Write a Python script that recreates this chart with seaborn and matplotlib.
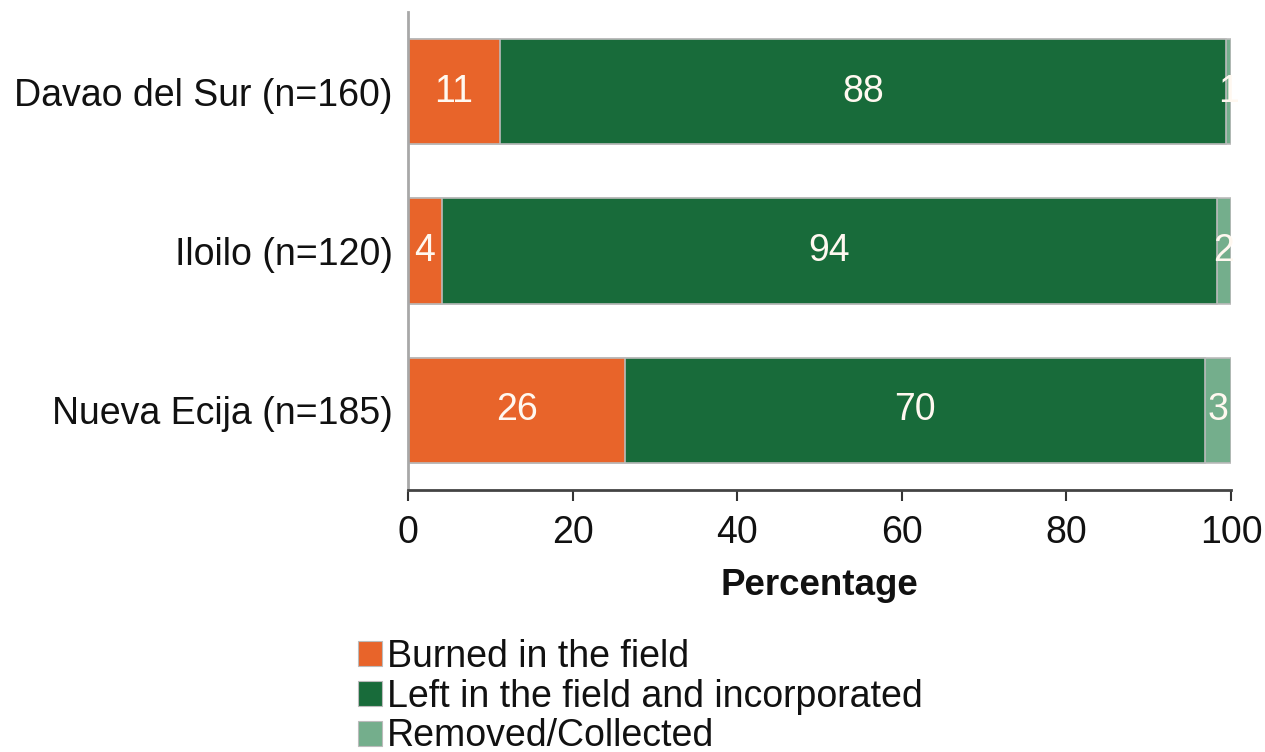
import numpy as np
import pandas as pd
import matplotlib
matplotlib.use("Agg")
import matplotlib.pyplot as plt
import seaborn as sns
from matplotlib.patches import Patch

# Fate of crop residue by province (percent of farmers)
provinces = ["Davao del Sur (n=160)", "Iloilo (n=120)", "Nueva Ecija (n=185)"]
burned = [11.2, 4.1, 26.4]
incorporated = [88.2, 94.2, 70.4]
removed = [0.6, 1.7, 3.2]

series_names = ["Burned in the field", "Left in the field and incorporated", "Removed/Collected"]
series_colors = ["#E8642A", "#186B3A", "#74AE8C"]

sns.set_theme(style="white")
plt.rcParams["font.family"] = ["Liberation Sans", "DejaVu Sans"]
plt.rcParams["text.color"] = "#111111"

df = pd.DataFrame({
    "province": provinces,
    "burned": burned,
    "incorporated": incorporated,
    "removed": removed,
})
df["c1"] = df["burned"]
df["c2"] = df["burned"] + df["incorporated"]
df["c3"] = df["c2"] + df["removed"]

fig = plt.figure(figsize=(12.65, 7.52), dpi=100)
ax = fig.add_axes([408 / 1265, 1 - 490 / 752, (1231 - 408) / 1265, (490 - 12) / 752])

# Stacked bars drawn as overlapping cumulative totals
for col, color in zip(["c3", "c2", "c1"], series_colors[::-1]):
    sns.barplot(data=df, x=col, y="province", orient="h", color=color,
                width=0.66, edgecolor="#BBBBBB", linewidth=1.2,
                saturation=1, ax=ax)

# Segment value labels
for i, row in df.iterrows():
    starts = [0, row["c1"], row["c2"]]
    vals = [row["burned"], row["incorporated"], row["removed"]]
    for s, v in zip(starts, vals):
        ax.text(s + v / 2, i, f"{v:.0f}", ha="center", va="center",
                color="#FFF8F0", fontsize=27)

ax.set_xlim(0, 100)
ax.set_ylim(2.5, -0.5)
ax.set_xticks([0, 20, 40, 60, 80, 100])
ax.set_xlabel("Percentage", fontsize=26.5, fontweight="bold", labelpad=12,
              color="#111111")
ax.set_ylabel("")
ax.tick_params(axis="x", labelsize=27, length=8, width=1.5, color="#333333",
               direction="out", pad=10, bottom=True)
ax.tick_params(axis="y", labelsize=27, length=0, pad=11)
for lab in ax.get_xticklabels() + ax.get_yticklabels():
    lab.set_color("#111111")

for side in ["top", "right"]:
    ax.spines[side].set_visible(False)
ax.spines["left"].set_color("#A8A8A8")
ax.spines["left"].set_linewidth(2)
ax.spines["bottom"].set_color("#444444")
ax.spines["bottom"].set_linewidth(2)

handles = [Patch(facecolor=c, edgecolor="#BBBBBB", linewidth=0.8) for c in series_colors]
leg = fig.legend(handles, series_names, loc="upper left",
                 bbox_to_anchor=(358 / 1265, 1 - 639 / 752), frameon=False,
                 fontsize=27, handlelength=0.65, handleheight=0.65,
                 handletextpad=0.12, labelspacing=0.1, borderaxespad=0,
                 borderpad=0)
for t in leg.get_texts():
    t.set_color("#111111")

fig.savefig("out.png", dpi=100)
